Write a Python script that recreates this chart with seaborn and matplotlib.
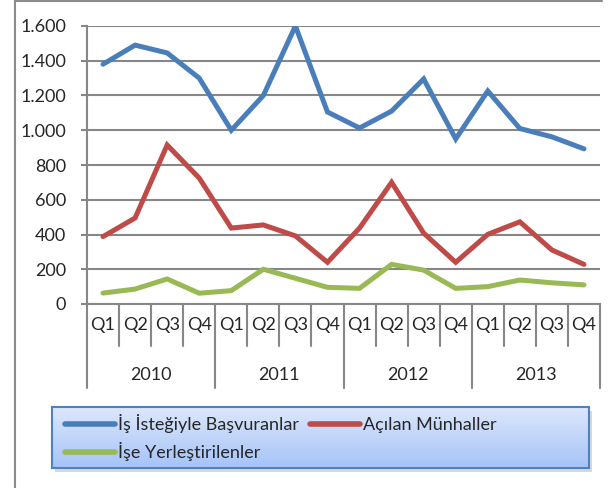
import numpy as np
import pandas as pd
import seaborn as sns
import matplotlib.pyplot as plt
from matplotlib.lines import Line2D
from matplotlib.patches import Rectangle

years = ['2010', '2011', '2012', '2013']
quarters = ['Q1', 'Q2', 'Q3', 'Q4']
series_names = ['İş İsteğiyle Başvuranlar', 'Açılan Münhaller', 'İşe Yerleştirilenler']
basvuran = [1380, 1490, 1445, 1300, 1000, 1200, 1600, 1105, 1013, 1110, 1295, 950, 1226, 1010, 962, 893]
munhal = [388, 495, 915, 725, 437, 455, 392, 240, 437, 700, 408, 240, 401, 473, 311, 228]
yerlesen = [63, 86, 144, 62, 77, 200, 148, 96, 90, 228, 195, 90, 100, 138, 122, 110]
colors = ['#4a7ebb', '#be4b48', '#98b954']
yticks = [0, 200, 400, 600, 800, 1000, 1200, 1400, 1600]

n = len(years) * len(quarters)
df = pd.DataFrame({
    'x': list(range(n)) * 3,
    'value': basvuran + munhal + yerlesen,
    'series': [s for s in series_names for _ in range(n)],
})

sns.set_style('white')
plt.rcParams['font.family'] = ['Lato', 'DejaVu Sans']

fig = plt.figure(figsize=(6.08, 4.88), dpi=100)
W, H = 608, 488
ax = fig.add_axes([87 / W, 1 - 304 / H, (600 - 87) / W, (304 - 26) / H])

sns.lineplot(data=df, x='x', y='value', hue='series', hue_order=series_names,
             palette=colors, linewidth=3.6, ax=ax, legend=False,
             solid_capstyle='round', solid_joinstyle='miter')

ax.set_xlim(-0.5, n - 0.5)
ax.set_ylim(0, 1600)
ax.set_yticks(yticks)
ax.set_yticklabels([f'{v:,}'.replace(',', '.') for v in yticks], fontsize=13)
ax.yaxis.grid(True, color='#878787', linewidth=1.5)
ax.set_axisbelow(True)
ax.set_xticks([])
ax.set_xlabel('')
ax.set_ylabel('')
for s in ['top', 'right']:
    ax.spines[s].set_visible(False)
for s in ['left', 'bottom']:
    ax.spines[s].set_color('#878787')
    ax.spines[s].set_linewidth(1.5)
ax.tick_params(axis='y', left=True, length=4, width=1.5, color='#878787', pad=11)

# category axis: quarters and years
trans = ax.get_xaxis_transform()
for i in range(n + 1):
    bottom = -0.302 if i % 4 == 0 else -0.15
    ax.plot([i - 0.5, i - 0.5], [0, bottom], transform=trans, color='#878787',
            linewidth=1.5, clip_on=False)
for i in range(n):
    ax.text(i, -0.076, quarters[i % 4], transform=trans, ha='center', va='center',
            fontsize=13)
for j, y in enumerate(years):
    ax.text(j * 4 + 1.5, -0.255, y, transform=trans, ha='center', va='center', fontsize=13)

# outer chart frame
fig.add_artist(Line2D([15 / W, 15 / W], [0, 1], color='#8c8c8c', linewidth=1.5))
fig.add_artist(Line2D([15 / W, 602 / W], [1 - 1 / H, 1 - 1 / H], color='#8c8c8c', linewidth=1.5))

# legend box with gradient and soft shadow
lx0, ly0, lw, lh = 52 / W, 1 - 468 / H, (589 - 52) / W, (468 - 407) / H
fig.add_artist(Rectangle((lx0 + 3 / W, ly0 - 4 / H), lw, lh, transform=fig.transFigure,
                         facecolor='#c8c8c8', edgecolor='none', alpha=0.7, zorder=-1))
lax = fig.add_axes([lx0, ly0, lw, lh])
lax.set_zorder(5)
grad = np.linspace(0, 1, 100).reshape(-1, 1)
lax.imshow(grad, aspect='auto', extent=[0, 1, 0, 1],
           cmap=sns.blend_palette(['#dde8fc', '#a6c3f8'], as_cmap=True))
lax.set_xticks([])
lax.set_yticks([])
for s in lax.spines.values():
    s.set_color('#4f81bd')
    s.set_linewidth(1.5)
handles = [Line2D([], [], color=colors[k], linewidth=4, solid_capstyle='round') for k in range(3)]
order = [0, 2, 1]
lax.legend([handles[k] for k in order], [series_names[k] for k in order], ncol=2,
           loc='center left', bbox_to_anchor=(0.0, 0.5), frameon=False, fontsize=13,
           handlelength=2.8, handletextpad=0.15, columnspacing=0.6, labelspacing=0.5,
           borderaxespad=0.3)

fig.savefig('out.png', dpi=100)
